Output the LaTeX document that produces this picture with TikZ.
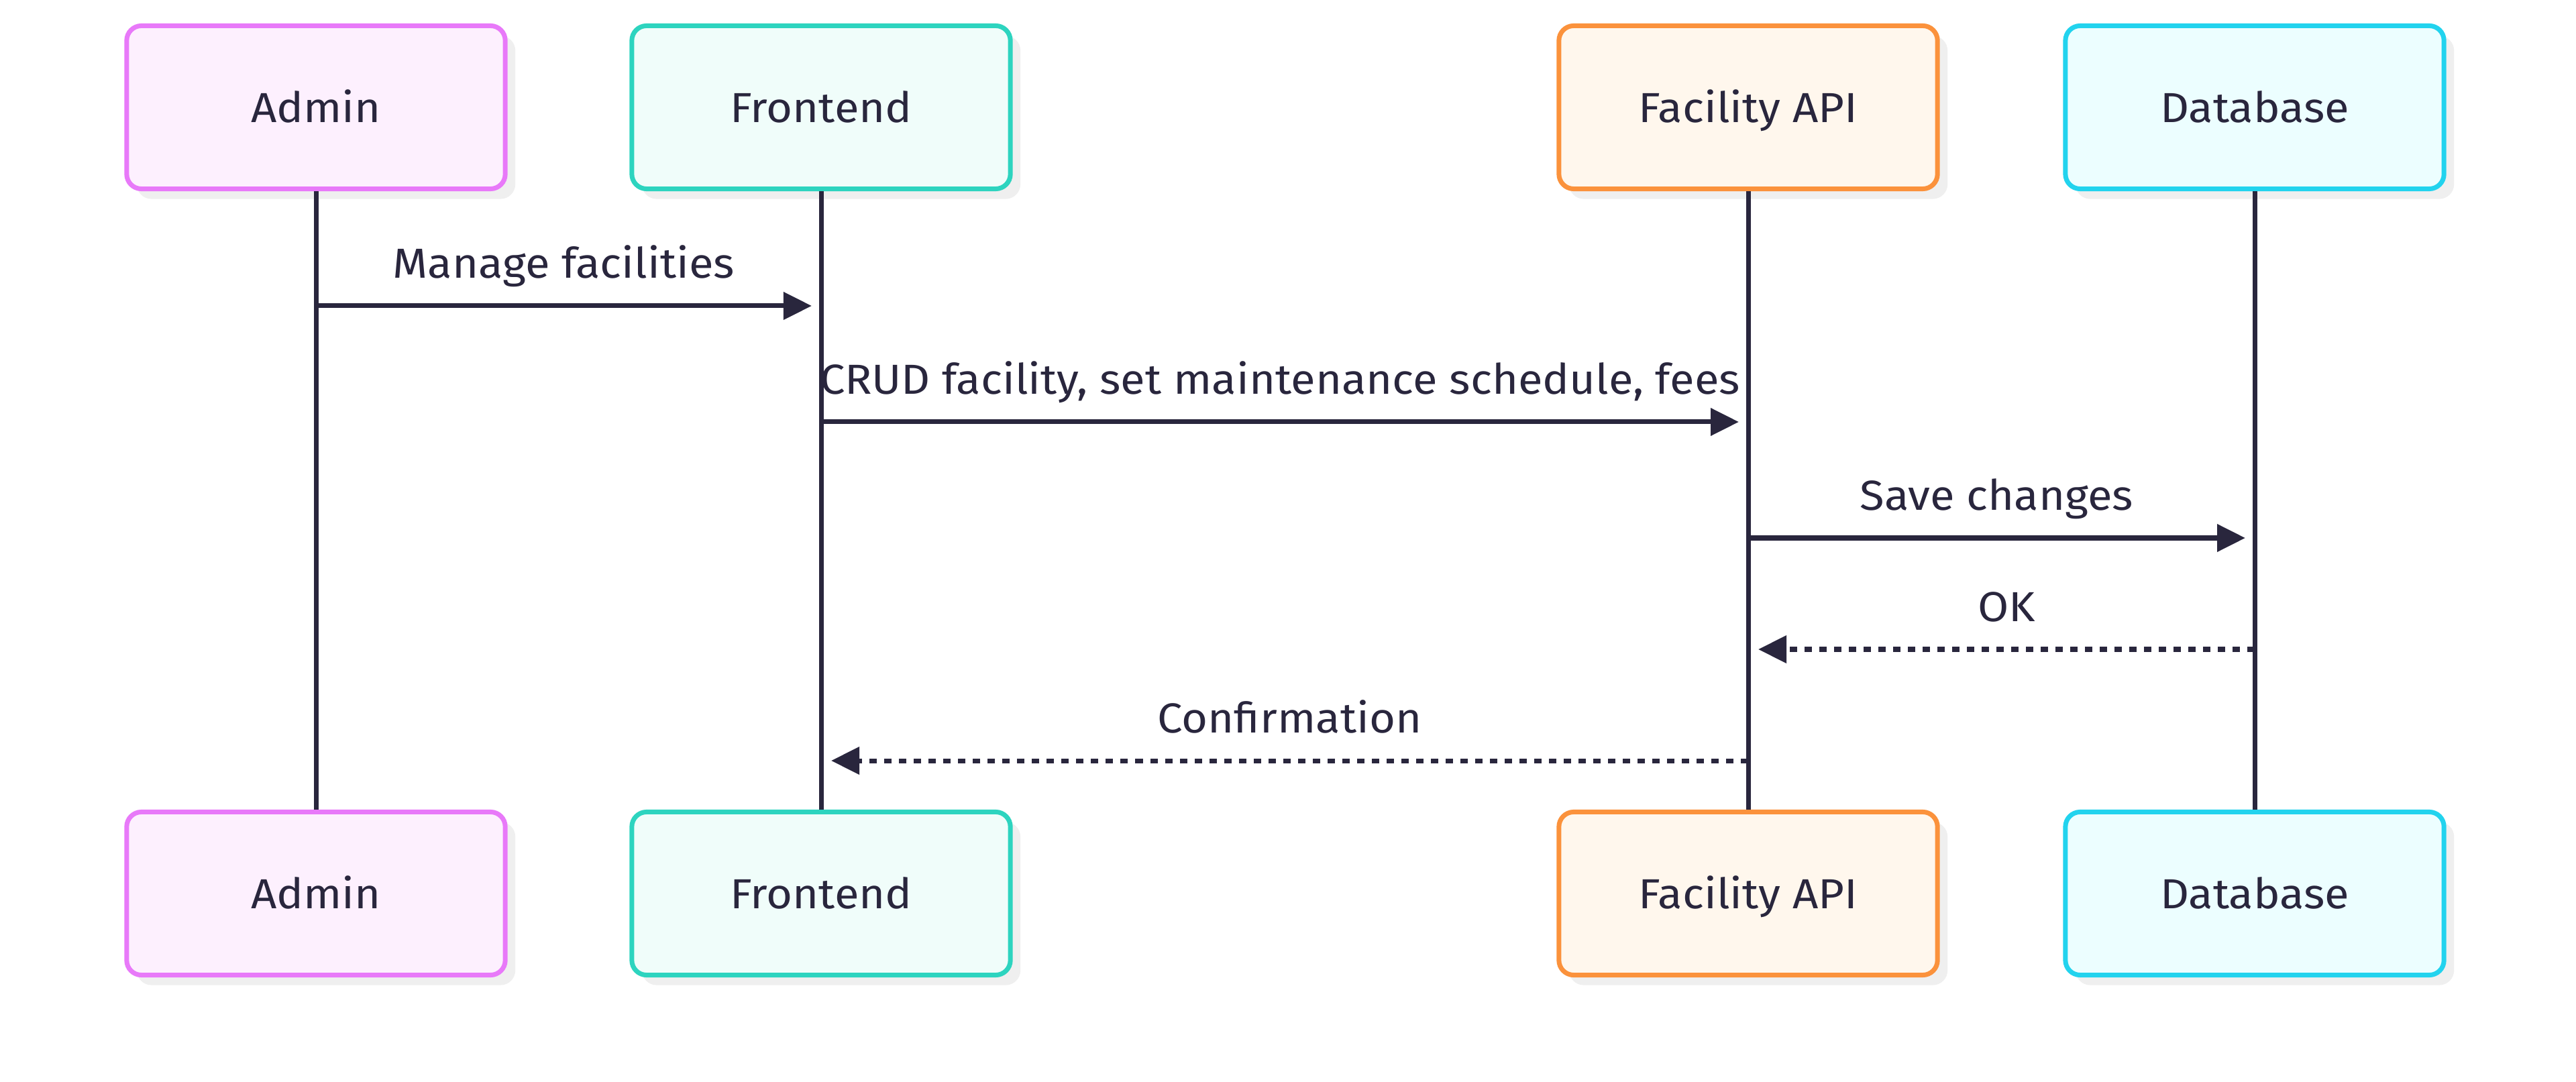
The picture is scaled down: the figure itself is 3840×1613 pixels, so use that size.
\documentclass[tikz,border=0pt]{standalone}
\usepackage{fontspec}
\setmainfont[FakeStretch=1.07]{Fira Sans}
\usetikzlibrary{arrows.meta,shadows}
\definecolor{ink}{HTML}{29263D}
\definecolor{shade}{HTML}{EFEFEF}
\definecolor{adminline}{HTML}{E879F9}
\definecolor{adminfill}{HTML}{FDF0FE}
\definecolor{frontline}{HTML}{2DD4BF}
\definecolor{frontfill}{HTML}{F0FDFA}
\definecolor{apiline}{HTML}{FB923C}
\definecolor{apifill}{HTML}{FFF7ED}
\definecolor{dbline}{HTML}{22D3EE}
\definecolor{dbfill}{HTML}{ECFEFF}
\newcommand{\msgfont}{\fontsize{17.8}{21}\selectfont}
\tikzset{
  actor/.style 2 args={draw=#1,fill=#2,line width=0.07cm,rounded corners=0.22cm,
    minimum width=5.64cm,minimum height=2.43cm,inner sep=0pt,text=ink,font=\msgfont,
    text height=0.56cm,text depth=0.12cm,
    drop shadow={shadow xshift=0.15cm,shadow yshift=-0.15cm,fill=shade,opacity=1}},
  life/.style={draw=ink,line width=0.07cm},
  msg/.style={draw=ink,line width=0.07cm,-{Triangle[length=0.42cm,width=0.40cm]}},
  reply/.style={msg,dash pattern=on 0.11cm off 0.11cm},
  lab/.style={anchor=base,yshift=0.41cm,text=ink,font=\msgfont,inner sep=0pt}
}
\begin{document}
\begin{tikzpicture}[x=0.01cm,y=-0.01cm]
  \useasboundingbox[fill=white] (0,0) rectangle (3840,1613);
  % participants, top and bottom
  \node[actor={adminline}{adminfill}] (adminT) at (471,160) {Admin};
  \node[actor={frontline}{frontfill}] (frontT) at (1224,160) {Frontend};
  \node[actor={apiline}{apifill}] (apiT) at (2606,160) {Facility API};
  \node[actor={dbline}{dbfill}] (dbT) at (3361,160) {Database};
  \node[actor={adminline}{adminfill}] (adminB) at (471,1332) {Admin};
  \node[actor={frontline}{frontfill}] (frontB) at (1224,1332) {Frontend};
  \node[actor={apiline}{apifill}] (apiB) at (2606,1332) {Facility API};
  \node[actor={dbline}{dbfill}] (dbB) at (3361,1332) {Database};
  % lifelines
  \draw[life] (adminT) -- (adminB);
  \draw[life] (frontT) -- (frontB);
  \draw[life] (apiT) -- (apiB);
  \draw[life] (dbT) -- (dbB);
  % messages
  \draw[msg] (adminT |- 0,456) -- node[lab] (m1) {Manage facilities} ([xshift=-0.14cm]frontT |- 0,456);
  \draw[msg] (frontT |- 0,629) -- node[lab] (m2) {CRUD facility, set maintenance schedule, fees} ([xshift=-0.14cm]apiT |- 0,629);
  \draw[msg] (apiT |- 0,802) -- node[lab] (m3) {Save changes} ([xshift=-0.14cm]dbT |- 0,802);
  \draw[reply] (dbT |- 0,968) -- node[lab] (m4) {OK} ([xshift=0.15cm]apiT |- 0,968);
  \draw[reply] (apiT |- 0,1134) -- node[lab] (m5) {Confirmation} ([xshift=0.15cm]frontT |- 0,1134);
\end{tikzpicture}
\end{document}
